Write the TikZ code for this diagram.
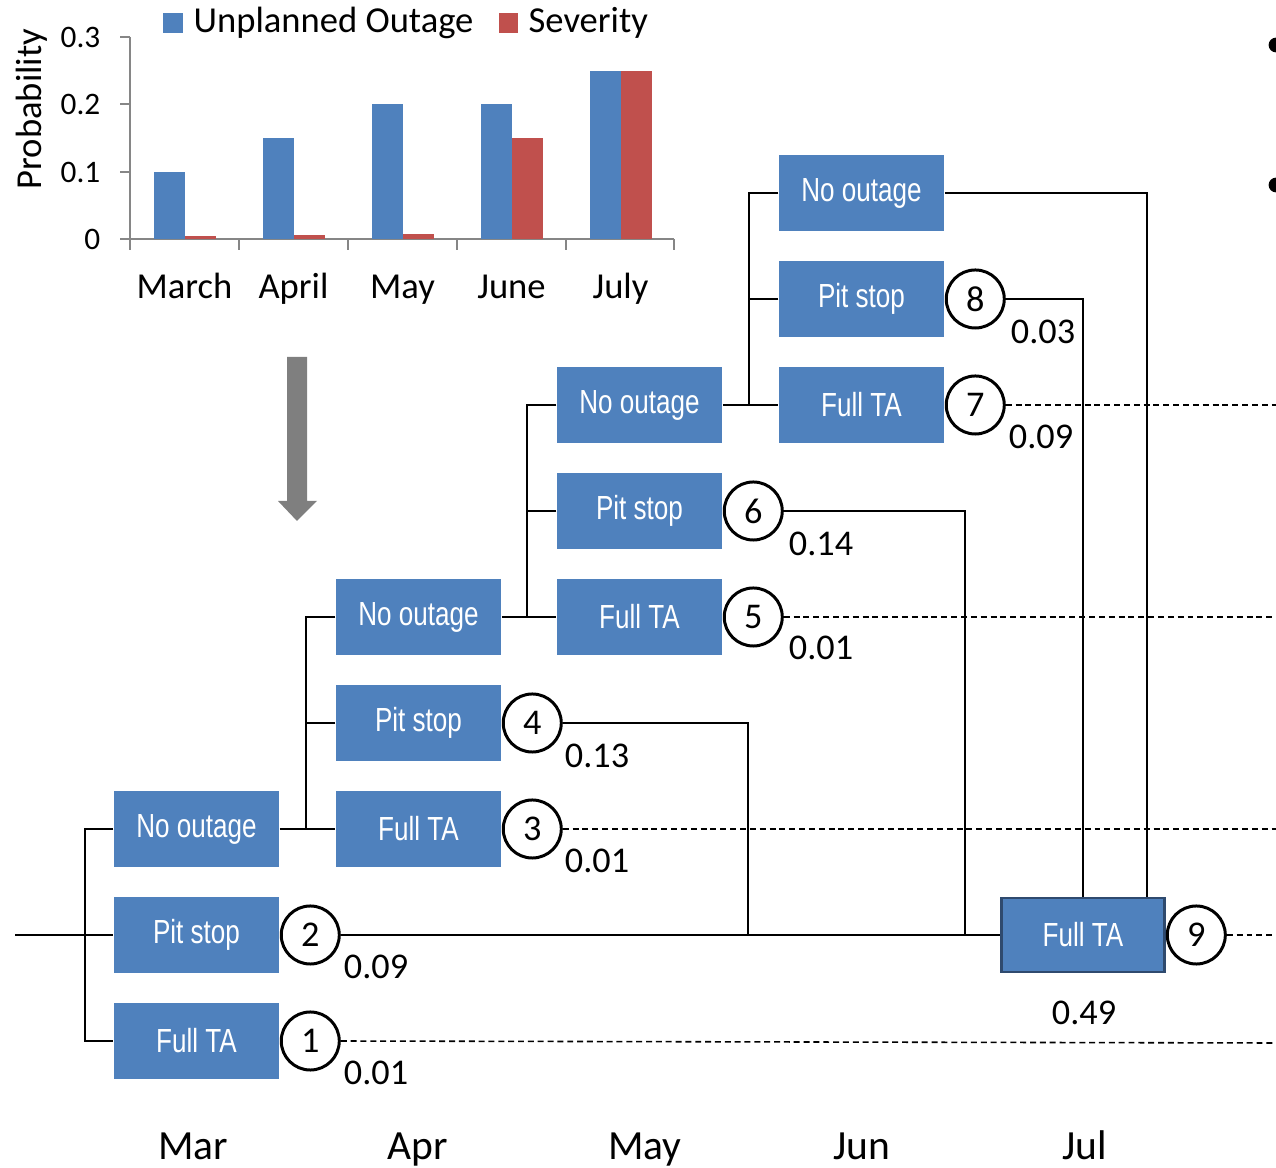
\documentclass[tikz,border=0pt]{standalone}
\usepackage{fontspec}
\setmainfont{Carlito}
\newfontfamily\narrowfont[FakeStretch=0.78]{Liberation Sans}
\usetikzlibrary{positioning}
\definecolor{optblue}{HTML}{4F81BD}
\definecolor{sevred}{HTML}{C0504D}
\definecolor{axisgray}{HTML}{868686}
\definecolor{arrowgray}{HTML}{7F7F7F}
\definecolor{boxedge}{HTML}{2F4A6E}

\begin{document}
\begin{tikzpicture}[x=0.01cm,y=-0.01cm,
  optbox/.style={fill=optblue, text=white, minimum width=1.65cm, minimum height=0.76cm, inner sep=0pt, font=\narrowfont\fontsize{9.5}{11}\selectfont},
  stage/.style={circle, draw, line width=0.85pt, minimum size=0.58cm, inner sep=0pt, fill=white, font=\fontsize{10.3}{12}\selectfont},
  prob/.style={font=\fontsize{10.3}{12}\selectfont},
  month/.style={font=\fontsize{11.8}{14}\selectfont, anchor=base, inner sep=0pt},
  chart/.style={font=\fontsize{10.4}{12}\selectfont},
  link/.style={line width=0.45pt},
  pending/.style={line width=0.45pt, dash pattern=on 1.7pt off 1.1pt}]
\clip (0,0) rectangle (1276,1168);

% bar chart
\draw[axisgray, line width=0.5pt] (130,37) -- (130,239) -- (674,239);
\foreach \y in {37,104,172,239} \draw[axisgray, line width=0.5pt] (120,\y) -- (130,\y);
\foreach \x in {130,239,348,457,566,674} \draw[axisgray, line width=0.5pt] (\x,239) -- (\x,250);
\foreach \v/\y [count=\i] in {0/239,0.1/172,0.2/104,0.3/37}
  \node[anchor=east, font=\fontsize{8.9}{10}\selectfont, inner sep=0pt] (tick\i) at (101,\y) {\v};
\foreach \u/\s [count=\i from 0] in {0.1/0.004,0.15/0.006,0.2/0.008,0.2/0.15,0.25/0.25}{
  \fill[optblue] (154+109*\i,239) rectangle ++(31,-673*\u);
  \fill[sevred] (185+109*\i,239) rectangle ++(31,-673*\s);
}
\foreach \m [count=\i from 0] in {March,April,May,June,July}
  \node[chart, anchor=base, inner sep=0pt] (cat\i) at (184.5+109*\i,299) {\m};
\node[chart, rotate=90, inner sep=0pt] (ylab) at (32,109) {Probability};
\fill[optblue] (163,13) rectangle (183,33);
\node[chart, anchor=base west, inner sep=0pt] (legu) at (193,33) {Unplanned Outage};
\fill[sevred] (499,13) rectangle (518,33);
\node[chart, anchor=base west, inner sep=0pt] (legs) at (528,33) {Severity};

% arrow
\fill[arrowgray] (287,357) -- (307,357) -- (307,501) -- (317,501) -- (297,521) -- (278,501) -- (287,501) -- cycle;

% bullets
\fill (1276,45) circle [radius=2.1pt];
\fill (1276,185) circle [radius=2.1pt];

% decision tree
\node[optbox] (no1) at (196.5,829) {No outage};
\node[optbox] (ps1) at (196.5,935) {Pit stop};
\node[optbox] (fta1) at (196.5,1041) {Full TA};
\node[optbox] (no2) at (418.5,617) {No outage};
\node[optbox] (ps2) at (418.5,723) {Pit stop};
\node[optbox] (fta2) at (418.5,829) {Full TA};
\node[optbox] (no3) at (639.5,405) {No outage};
\node[optbox] (ps3) at (639.5,511) {Pit stop};
\node[optbox] (fta3) at (639.5,617) {Full TA};
\node[optbox] (no4) at (861.5,193) {No outage};
\node[optbox] (ps4) at (861.5,299) {Pit stop};
\node[optbox] (fta4) at (861.5,405) {Full TA};
\node[optbox, draw=boxedge, line width=0.7pt, minimum width=1.63cm, minimum height=0.74cm] (fta5) at (1083,935) {Full TA};

\node[stage, right=0pt of fta1] (s1) {1};
\node[stage, right=0pt of ps1] (s2) {2};
\node[stage, right=0pt of fta2] (s3) {3};
\node[stage, right=0pt of ps2] (s4) {4};
\node[stage, right=0pt of fta3] (s5) {5};
\node[stage, right=0pt of ps3] (s6) {6};
\node[stage, right=0pt of fta4] (s7) {7};
\node[stage, right=0pt of ps4] (s8) {8};
\node[stage, right=0pt of fta5] (s9) {9};

\node[prob] (p1) at (376,1073) {0.01};
\node[prob] (p2) at (376,967) {0.09};
\node[prob] (p3) at (597,861) {0.01};
\node[prob] (p4) at (597,756) {0.13};
\node[prob] (p5) at (821,648) {0.01};
\node[prob] (p6) at (821,544) {0.14};
\node[prob] (p7) at (1041,437) {0.09};
\node[prob] (p8) at (1043,332) {0.03};
\node[prob] (p9) at (1084,1013) {0.49};

\coordinate (root) at (15,935);
\coordinate (j4) at (748,935);
\coordinate (j6) at (965,935);
\coordinate (j9) at (1147,897);
\coordinate (e1) at (1276,1043);
\coordinate (e3) at (1276,829);
\coordinate (e5) at (1276,617);
\coordinate (e7) at (1276,405);
\coordinate (e9) at (1276,935);

\draw[link] (root) -- (ps1.west);
\draw[link] (no1.west) -- ++(-28,0) |- (fta1.west);
\draw[link] (no1.east) -- (fta2.west);
\draw[link] (no2.west) -- ++(-29,0) |- (fta2.west);
\draw[link] (ps2.west) -- ++(-29,0);
\draw[link] (no2.east) -- (fta3.west);
\draw[link] (no3.west) -- ++(-29,0) |- (fta3.west);
\draw[link] (ps3.west) -- ++(-29,0);
\draw[link] (no3.east) -- (fta4.west);
\draw[link] (no4.west) -- ++(-29,0) |- (fta4.west);
\draw[link] (ps4.west) -- ++(-29,0);
\draw[link] (s2.east) -- (fta5.west);
\draw[link] (s4.east) -| (j4);
\draw[link] (s6.east) -| (j6);
\draw[link] (s8.east) -| (fta5.north);
\draw[link] (no4.east) -| (j9);
\draw[pending] (s1.east) -- (e1);
\draw[pending] (s3.east) -- (e3);
\draw[pending] (s5.east) -- (e5);
\draw[pending] (s7.east) -- (e7);
\draw[pending] (s9.east) -- (e9);

% months
\node[month] (mar) at (193,1159) {Mar};
\node[month] (apr) at (418,1159) {Apr};
\node[month] (may) at (645,1159) {May};
\node[month] (jun) at (862,1159) {Jun};
\node[month] (jul) at (1085,1159) {Jul};
\end{tikzpicture}
\end{document}
